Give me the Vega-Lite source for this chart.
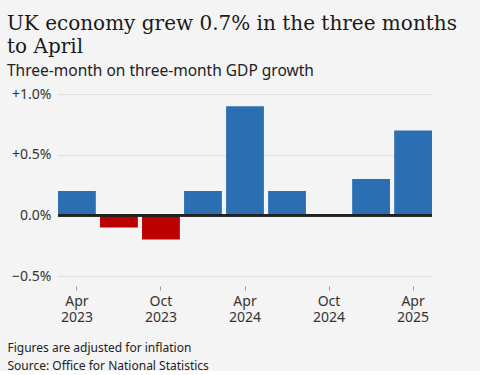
{
  "$schema": "https://vega.github.io/schema/vega-lite/v6.json",
  "width": 374,
  "height": 182,
  "padding": {"left": 7, "top": 13, "right": 48, "bottom": 0},
  "background": "#f4f4f4",
  "title": {
    "text": ["UK economy grew 0.7% in the three months", "to April"],
    "subtitle": "Three-month on three-month GDP growth",
    "anchor": "start",
    "frame": "bounds",
    "font": "DejaVu Serif",
    "fontSize": 20,
    "fontWeight": "normal",
    "color": "#1a1a1a",
    "lineHeight": 23,
    "subtitleFont": "Noto Sans",
    "subtitleFontSize": 15.5,
    "subtitleColor": "#222222",
    "subtitlePadding": 7,
    "offset": 8
  },
  "data": {
    "values": [
      {"period": "Apr 2023", "growth": 0.2},
      {"period": "Jul 2023", "growth": -0.1},
      {"period": "Oct 2023", "growth": -0.2},
      {"period": "Jan 2024", "growth": 0.2},
      {"period": "Apr 2024", "growth": 0.9},
      {"period": "Jul 2024", "growth": 0.2},
      {"period": "Oct 2024", "growth": 0.0},
      {"period": "Jan 2025", "growth": 0.3},
      {"period": "Apr 2025", "growth": 0.7}
    ]
  },
  "config": {
    "view": {"stroke": null},
    "font": "Noto Sans"
  },
  "layer": [
    {
      "mark": {"type": "bar"},
      "encoding": {
        "x": {
          "field": "period",
          "type": "ordinal",
          "sort": null,
          "scale": {"paddingInner": 0.1, "paddingOuter": 0},
          "axis": {
            "values": ["Apr 2023", "Oct 2023", "Apr 2024", "Oct 2024", "Apr 2025"],
            "labelExpr": "split(datum.label, ' ')",
            "labelAngle": 0,
            "labelFont": "Noto Sans",
            "labelFontSize": 14,
            "labelColor": "#333333",
            "labelLineHeight": 16,
            "labelPadding": 4,
            "domain": false,
            "ticks": true,
            "tickSize": 4,
            "tickColor": "#999999",
            "offset": 10,
            "title": ["Figures are adjusted for inflation", "Source: Office for National Statistics"],
            "titleAnchor": "start",
            "titleAlign": "left",
            "titleBaseline": "alphabetic",
            "titleX": -51,
            "titleY": 65,
            "titleFont": "Noto Sans",
            "titleFontSize": 12,
            "titleFontWeight": "normal",
            "titleColor": "#222222",
            "titleLineHeight": 18
          }
        },
        "y": {
          "field": "growth",
          "type": "quantitative",
          "scale": {"domain": [-0.5, 1.0], "nice": false},
          "axis": {
            "values": [-0.5, 0, 0.5, 1.0],
            "labelExpr": "datum.value > 0 ? '+' + format(datum.value, '.1f') + '%' : format(datum.value, '.1f') + '%'",
            "labelFont": "Noto Sans",
            "labelFontSize": 14,
            "labelColor": "#333333",
            "labelPadding": 7,
            "domain": false,
            "ticks": false,
            "grid": true,
            "gridColor": "#dddddd",
            "gridWidth": 1,
            "title": null
          }
        },
        "color": {
          "condition": {"test": "datum.growth < 0", "value": "#bb0000"},
          "value": "#2b6fb3"
        }
      }
    },
    {
      "mark": {"type": "rule", "color": "#222222", "strokeWidth": 2},
      "encoding": {"y": {"datum": 0}}
    }
  ]
}
